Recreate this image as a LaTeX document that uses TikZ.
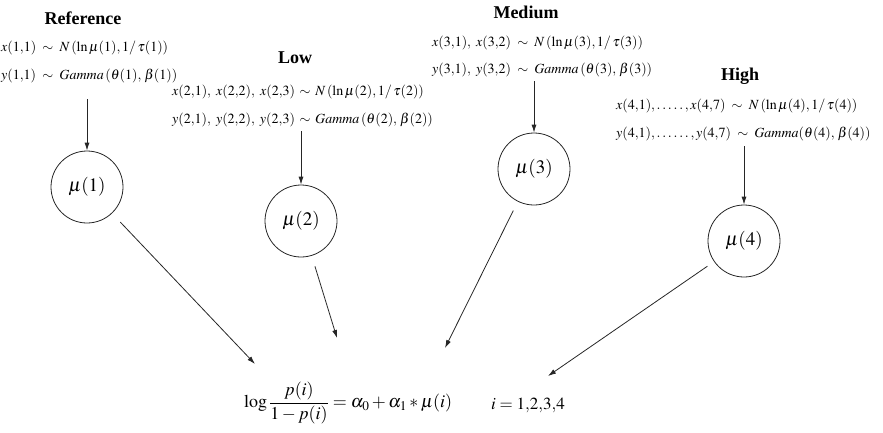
\documentclass[tikz,border=0pt]{standalone}
\usepackage{mathptmx}
\usepackage[no-math]{fontspec}
\setmainfont{Liberation Serif}
\usetikzlibrary{arrows.meta}
\newcommand{\dd}{.\kern1.8pt}
\tikzset{
  grouptitle/.style={font=\fontsize{18}{20}\selectfont\bfseries, inner sep=0pt, anchor=base},
  distline/.style={font=\fontsize{14}{16}\selectfont, inner sep=0pt, anchor=base west},
  munode/.style={circle, draw=black!85, line width=0.8pt, minimum size=72pt, inner sep=0pt, font=\fontsize{19}{21}\selectfont},
  arr/.style={draw=black!85, line width=0.8pt, -{Latex[length=8pt,width=5pt]}},
}
\begin{document}
\begin{tikzpicture}[x=1pt,y=-1pt]
\useasboundingbox (0,0) rectangle (883,432);
% Reference
\node[grouptitle] (t1) at (83,24) {Reference};
\node[distline] (r1a) at (1,51) {$x(1{,}1)\;\sim\;N\,(\ln\mu(1),1/\,\tau(1))$};
\node[distline] (r1b) at (1,79) {$y(1{,}1)\;\sim\;\mathit{Gamma}\,(\theta(1),\,\beta(1))$};
% Low
\node[grouptitle] (t2) at (295,63) {Low};
\node[distline] (r2a) at (172,95) {$x(2{,}1),\ x(2{,}2),\ x(2{,}3)\,\sim\,N\,(\ln\mu(2),1/\,\tau(2))$};
\node[distline] (r2b) at (172,123) {$y(2{,}1),\ y(2{,}2),\ y(2{,}3)\,\sim\,\mathit{Gamma}\,(\theta(2),\,\beta(2))$};
% Medium
\node[grouptitle] (t3) at (526,18) {Medium};
\node[distline] (r3a) at (432,46) {$x(3{,}1),\ x(3{,}2)\;\sim\;N\,(\ln\mu(3),1/\,\tau(3))$};
\node[distline] (r3b) at (432,73) {$y(3{,}1),\ y(3{,}2)\;\sim\;\mathit{Gamma}\,(\theta(3),\,\beta(3))$};
% High
\node[grouptitle] (t4) at (740,80) {High};
\node[distline] (r4a) at (616,109) {$x(4{,}1),\dd\dd\dd\dd\dd,x(4{,}7)\;\sim\;N\,(\ln\mu(4),1/\,\tau(4))$};
\node[distline] (r4b) at (616,137) {$y(4{,}1),\dd\dd\dd\dd\dd\dd,y(4{,}7)\;\sim\;\mathit{Gamma}(\theta(4),\,\beta(4))$};
% circles
\node[munode] (c1) at (87,187) {$\mu(1)$};
\node[munode] (c2) at (301,221) {$\mu(2)$};
\node[munode] (c3) at (534,169) {$\mu(3)$};
\node[munode] (c4) at (744,241) {$\mu(4)$};
% arrow starts
\coordinate (s1) at (87,99);
\coordinate (s2) at (301,131);
\coordinate (s3) at (534,81);
\coordinate (s4) at (744,146);
\draw[arr] (s1) -- (c1);
\draw[arr] (s2) -- (c2);
\draw[arr] (s3) -- (c3);
\draw[arr] (s4) -- (c4);
% equation
\node[inner sep=0pt, anchor=west, font=\fontsize{18}{21}\selectfont] (eq) at (244,403)
  {$\displaystyle\log\frac{p(i)}{1-p(i)}=\alpha_0+\alpha_1*\mu(i)$};
\node[inner sep=0pt, anchor=base west, font=\fontsize{17}{20}\selectfont] (idx) at (491,409) {$i\;{=}\;1{,}2{,}3{,}4$};
% arrow ends
\coordinate (e1) at (255,364);
\coordinate (e2) at (337,338);
\coordinate (e3) at (445,348);
\coordinate (e4) at (548,376);
\draw[arr, shorten <=12pt] (c1) -- (e1);
\draw[arr, shorten <=11pt] (c2) -- (e2);
\draw[arr, shorten <=10pt] (c3) -- (e3);
\draw[arr, shorten <=8pt] (c4) -- (e4);
\end{tikzpicture}
\end{document}
